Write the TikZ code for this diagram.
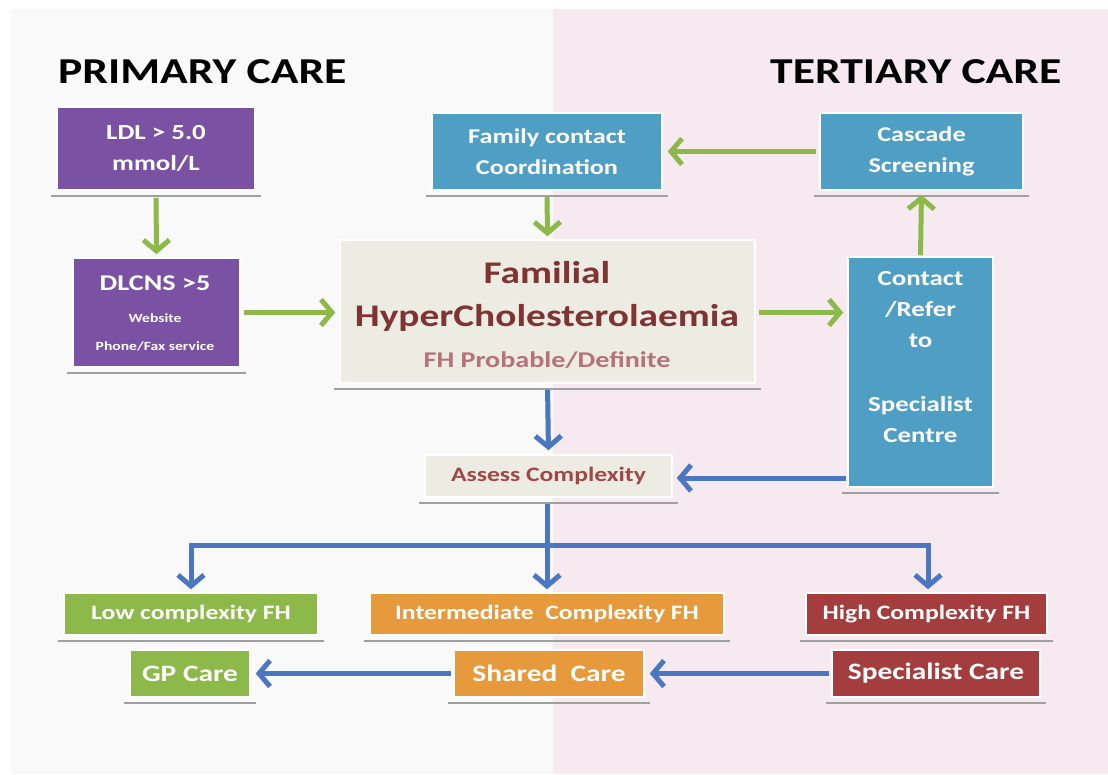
\documentclass[tikz,border=0pt]{standalone}
\usepackage{fontspec}
\setmainfont{Carlito}[FakeStretch=1.25]
\usetikzlibrary{arrows.meta}
\definecolor{leftbg}{HTML}{F9F9FA}
\definecolor{rightbg}{HTML}{F6EAF0}
\definecolor{purp}{HTML}{7B52A3}
\definecolor{bluebox}{HTML}{4F9EC4}
\definecolor{beige}{HTML}{EDECE3}
\definecolor{grn}{HTML}{8DB84A}
\definecolor{org}{HTML}{E69A3C}
\definecolor{dred}{HTML}{A43E3E}
\definecolor{arrblue}{HTML}{4A76C2}
\definecolor{fhtext}{HTML}{7F3333}
\definecolor{fhsub}{HTML}{B57279}
\definecolor{asstext}{HTML}{A04848}
\definecolor{shad}{HTML}{A0A0A0}
\begin{document}
\begin{tikzpicture}[x=1pt,y=-1pt,
  box/.style={draw=white, line width=1.5pt, inner sep=0pt, align=center, font=\bfseries},
  purpbox/.style={box, fill=purp, text=white},
  bluebx/.style={box, fill=bluebox, text=white},
  beigebox/.style={box, fill=beige},
  grnbox/.style={box, fill=grn, text=white},
  orgbox/.style={box, fill=org, text=white},
  redbox/.style={box, fill=dred, text=white},
  lbl/.style={inner sep=0pt, align=center, font=\bfseries},
  title/.style={inner sep=0pt, anchor=base west, font=\fontsize{36.5}{40}\selectfont\bfseries},
  garr/.style={draw=grn, line width=5pt, -{Straight Barb[length=11pt,width=26pt]}},
  barr/.style={draw=arrblue, line width=5pt, -{Straight Barb[length=11pt,width=26pt]}},
  bline/.style={draw=arrblue, line width=5pt},
  shadowline/.style={draw=shad, line width=2pt}
]
\useasboundingbox (0,0) rectangle (1108,774);
\fill[white] (0,0) rectangle (1108,774);
\fill[leftbg] (11,9) rectangle (553,774);
\fill[rightbg] (553,9) rectangle (1108,774);

\node[title] (tp) at (58,83) {PRIMARY CARE};
\node[title] (tt) at (770,83) {TERTIARY CARE};

% boxes
\node[purpbox, minimum width=198pt, minimum height=83pt, font=\fontsize{21.5}{31}\selectfont\bfseries] (ldl) at (156,148.5) {LDL > 5.0\\mmol/L};
\node[purpbox, minimum width=167pt, minimum height=109pt] (dlcns) at (156.5,312.5) {};
\node[lbl, text=white, font=\fontsize{22.5}{24}\selectfont\bfseries] (dl1) at (155,283) {DLCNS >5};
\node[lbl, text=white, font=\fontsize{12.5}{14}\selectfont\bfseries] (dl2) at (155,318) {Website};
\node[lbl, text=white, font=\fontsize{12.5}{14}\selectfont\bfseries] (dl3) at (155,346) {Phone/Fax service};

\node[bluebx, minimum width=230pt, minimum height=77pt, font=\fontsize{21}{31}\selectfont\bfseries] (fam) at (547,151.5) {Family contact\\Coordination};
\node[bluebx, minimum width=203pt, minimum height=77pt, font=\fontsize{21}{31}\selectfont\bfseries] (casc) at (921.5,151.5) {Cascade\\Screening};

\node[beigebox, minimum width=415pt, minimum height=143pt] (fh) at (547.5,311.5) {};
\node[lbl, text=fhtext, font=\fontsize{31.5}{33}\selectfont\bfseries] (fh1) at (547,273) {Familial};
\node[lbl, text=fhtext, font=\fontsize{31.5}{33}\selectfont\bfseries] (fh2) at (547,318) {HyperCholesterolaemia};
\node[lbl, text=fhsub, font=\fontsize{22.5}{24}\selectfont\bfseries] (fh3) at (547,360) {FH Probable/Definite};

\node[bluebx, minimum width=145pt, minimum height=230pt] (contact) at (920.5,372) {};
\node[lbl, text=white, font=\fontsize{21.5}{31}\selectfont\bfseries] (ctext) at (920.5,357) {Contact\\/Refer\\to\\[33pt]Specialist\\Centre};

\node[beigebox, text=asstext, minimum width=247pt, minimum height=42pt, font=\fontsize{20.5}{22}\selectfont\bfseries] (assess) at (548.5,476) {Assess Complexity};

\node[grnbox, minimum width=254pt, minimum height=42pt, font=\fontsize{20.5}{22}\selectfont\bfseries] (low) at (191,614) {Low complexity FH};
\node[orgbox, minimum width=354pt, minimum height=42pt, font=\fontsize{20.5}{22}\selectfont\bfseries] (inter) at (547,614) {Intermediate\ \ Complexity FH};
\node[redbox, minimum width=241pt, minimum height=42pt, font=\fontsize{20.5}{22}\selectfont\bfseries] (high) at (926.5,614) {High Complexity FH};

\node[grnbox, minimum width=120pt, minimum height=47pt, font=\fontsize{23.5}{25}\selectfont\bfseries] (gp) at (190,673.5) {GP Care};
\node[orgbox, minimum width=190pt, minimum height=47pt, font=\fontsize{23.5}{25}\selectfont\bfseries] (shared) at (549,673.5) {Shared\ \ Care};
\node[redbox, minimum width=208pt, minimum height=47pt, font=\fontsize{23.5}{25}\selectfont\bfseries] (spec) at (936,673.5) {Specialist Care};

% shadows
\foreach \n in {ldl,dlcns,fam,casc,fh,contact,assess,low,inter,high,gp,shared,spec}{
  \draw[shadowline] ([xshift=-5pt,yshift=-5pt]\n.south west) -- ([xshift=5pt,yshift=-5pt]\n.south east);
}

% green arrows
\draw[garr, shorten <=7pt, shorten >=3pt] (ldl.south) -- (dlcns.north);
\draw[garr, shorten <=3pt, shorten >=4pt] (dlcns.east) -- (dlcns.east -| fh.west);
\draw[garr, shorten <=3pt, shorten >=4pt] (fh.east |- dlcns.east) -- (dlcns.east -| contact.west);
\draw[garr, shorten <=1pt, shorten >=4pt] (contact.north) -- (casc.south);
\draw[garr, shorten <=3pt, shorten >=5pt] (casc.west) -- (fam.east);
\draw[garr, shorten <=6pt, shorten >=3pt] (fam.south) -- (fh.north);

% blue arrows
\draw[barr, shorten <=6pt, shorten >=4pt] (fh.south) -- (assess.north);
\draw[barr, shorten <=1pt, shorten >=4pt] ([yshift=-2pt]assess.east -| contact.west) -- ([yshift=-2pt]assess.east);
\coordinate (split) at (547,545);
\draw[bline, shorten <=6pt] (assess.south -| split) -- (split);
\draw[barr, shorten >=3pt] (split) -| (low.north);
\draw[barr, shorten >=3pt] (split) -- (split |- inter.north);
\draw[barr, shorten >=3pt] (split) -| ([xshift=1.5pt]high.north);
\draw[barr, shorten <=2pt, shorten >=5pt] (spec.west) -- (shared.east);
\draw[barr, shorten <=2pt, shorten >=5pt] (shared.west) -- (gp.east);
\end{tikzpicture}
\end{document}
